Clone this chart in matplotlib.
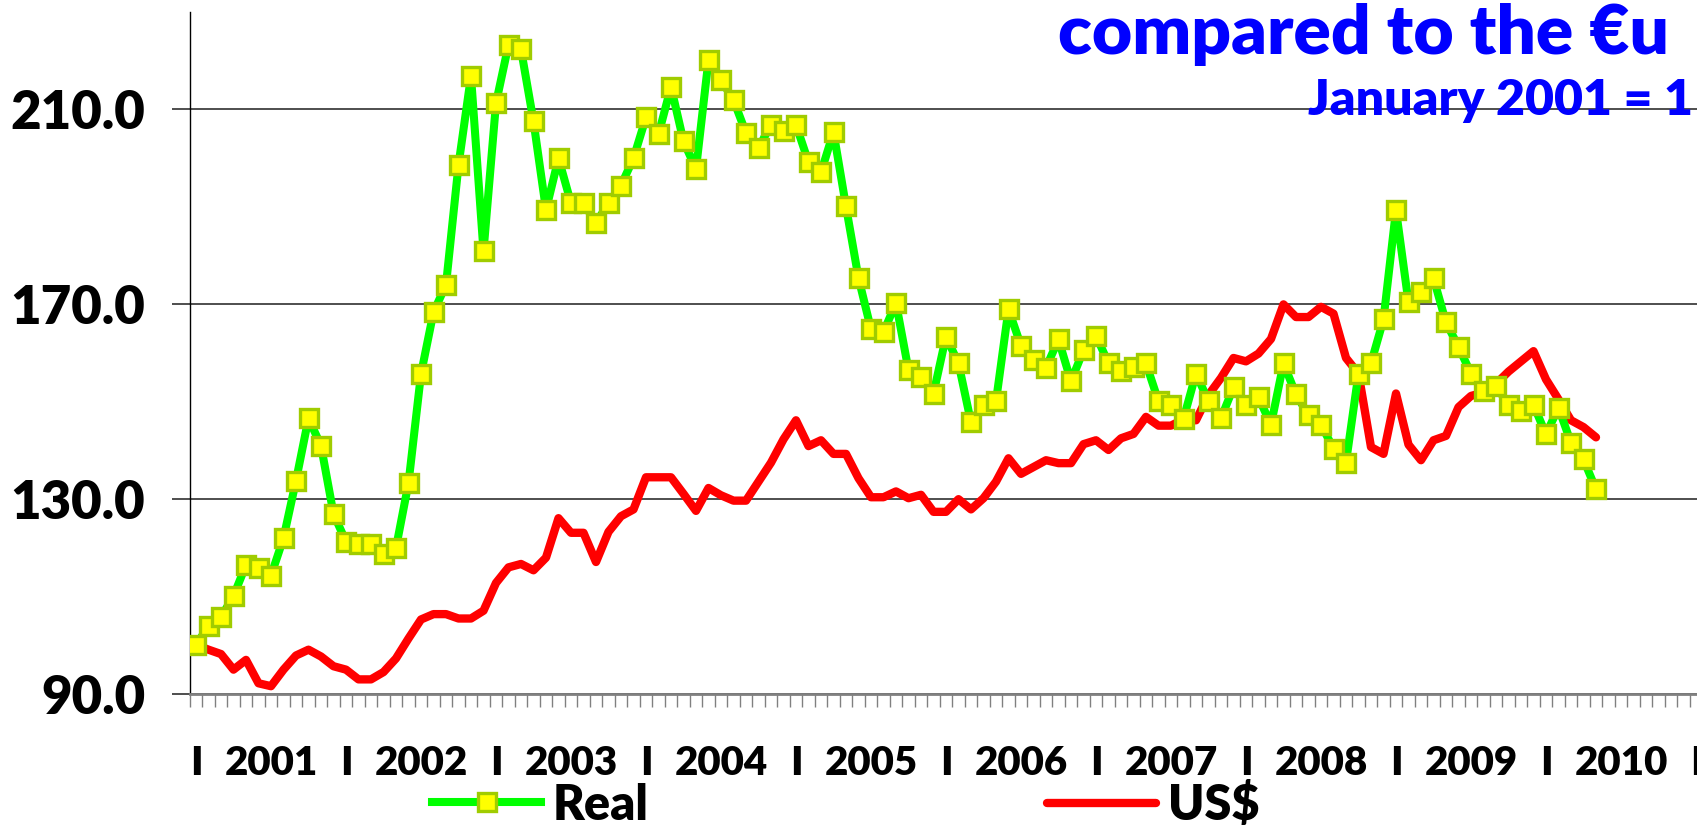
import matplotlib.pyplot as plt
import numpy as np

plt.rcParams['font.family'] = ['Lato', 'DejaVu Sans']

# monthly index, January 2001 = 100
years = ['2001', '2002', '2003', '2004', '2005', '2006', '2007', '2008', '2009', '2010']
sep_label = 'I'
yticks = [90, 130, 170, 210]

real = [100.0, 103.8, 105.7, 110.0, 116.4, 115.7, 114.2, 121.9, 133.7, 146.5,
        140.9, 126.9, 121.2, 120.7, 120.7, 118.7, 119.9, 133.2, 155.6, 168.3,
        173.9, 198.5, 216.8, 180.8, 211.2, 223.2, 222.3, 207.5, 189.3, 199.9,
        190.7, 190.7, 186.6, 190.7, 194.3, 199.9, 208.3, 204.8, 214.6, 203.4,
        197.7, 220.1, 216.0, 211.9, 205.1, 202.0, 206.8, 205.5, 206.8, 199.1,
        197.0, 205.3, 190.0, 175.3, 164.8, 164.2, 170.2, 156.4, 155.0, 151.6,
        163.3, 157.8, 145.7, 149.3, 150.0, 168.9, 161.4, 158.4, 156.9, 162.7,
        154.1, 160.5, 163.5, 157.8, 156.3, 157.1, 157.8, 150.0, 149.3, 146.4,
        155.7, 150.0, 146.5, 152.9, 149.3, 150.8, 145.2, 157.8, 151.4, 147.2,
        145.2, 140.3, 137.4, 155.7, 157.8, 166.8, 189.3, 170.3, 172.4, 175.3,
        166.2, 161.2, 155.7, 152.2, 153.1, 149.3, 148.1, 149.3, 143.2, 148.7,
        141.5, 138.1, 131.9]

usd = [100.0, 99.0, 98.1, 94.9, 96.9, 92.1, 91.5, 94.9, 97.8, 99.0,
       97.6, 95.6, 94.9, 92.9, 92.9, 94.4, 97.2, 101.3, 105.2, 106.3,
       106.3, 105.4, 105.4, 107.0, 112.7, 115.9, 116.6, 115.3, 117.9, 126.0,
       123.0, 123.0, 117.0, 123.2, 126.4, 127.8, 134.4, 134.4, 134.4, 131.0,
       127.5, 132.2, 130.7, 129.6, 129.6, 133.5, 137.4, 142.2, 146.1, 140.8,
       142.0, 139.2, 139.2, 134.2, 130.3, 130.3, 131.5, 130.1, 130.8, 127.3,
       127.3, 129.9, 127.8, 130.1, 133.5, 138.3, 135.1, 136.5, 137.9, 137.3,
       137.3, 141.2, 142.0, 140.0, 142.4, 143.3, 146.8, 145.0, 145.0, 146.3,
       146.1, 151.3, 154.8, 158.9, 158.2, 159.8, 162.8, 169.9, 167.3, 167.3,
       169.4, 168.0, 158.9, 155.7, 140.6, 139.2, 151.6, 141.1, 137.9, 142.0,
       142.9, 148.8, 151.1, 151.8, 153.6, 156.1, 158.2, 160.3, 154.5, 150.4,
       146.1, 144.7, 142.6]

W, H = 1697, 830
fig = plt.figure(figsize=(W / 100, H / 100), dpi=100)
# plot area runs past the right edge, like the cropped original
ax = fig.add_axes([189.75 / W, (H - 693.5) / H, 1650 / W, (693.5 - 11.7) / H])

l_usd, = ax.plot(np.arange(len(usd)), usd, color='#ff0000', lw=6.0,
                 solid_joinstyle='round', solid_capstyle='round', zorder=3)
l_real, = ax.plot(np.arange(len(real)), real, color='#00ff00', lw=5.8,
                  solid_joinstyle='round', marker='s', ms=13, mfc='#ffff00',
                  mec='#a0cc00', mew=2.4, zorder=4)

n_cat = 12 * (len(years) + 1)
ax.set_xlim(-0.5, n_cat - 0.5)
ax.set_ylim(90, 230)

ax.set_yticks(yticks)
ax.set_yticklabels([f'{v:.1f}' for v in yticks], fontsize=38, fontweight='heavy')
ax.grid(axis='y', color='#404040', lw=1.3)
ax.set_axisbelow(True)
ax.tick_params(axis='y', length=13, width=1.3, color='#404040', pad=19)

pos, labs = [], []
for k in range(len(years) + 1):
    pos.append(12 * k)
    labs.append(sep_label)
    if k < len(years):
        pos.append(12 * k + 6)
        labs.append(years[k])
ax.set_xticks(pos)
ax.set_xticklabels(labs, fontsize=29, fontweight='heavy')
ax.set_xticks(np.arange(-0.5, n_cat, 1), minor=True)
ax.tick_params(axis='x', which='major', length=0, pad=37)
ax.tick_params(axis='x', which='minor', length=9.5, width=1, color='#808080')

for s in ('top', 'right'):
    ax.spines[s].set_visible(False)
ax.spines['left'].set_color('black')
ax.spines['left'].set_linewidth(1)
ax.spines['bottom'].set_color('#808080')
ax.spines['bottom'].set_linewidth(2)

leg_kw = dict(loc='center left', frameon=False, borderpad=0, borderaxespad=0,
              handlelength=2.25, handletextpad=0.24,
              prop={'size': 35, 'weight': 'heavy'})
fig.legend([l_real], ['Real'], bbox_to_anchor=(432 / W, (H - 805) / H), **leg_kw)
fig.legend([l_usd], ['US$'], bbox_to_anchor=(1047 / W, (H - 805) / H), **leg_kw)

fig.text(1058 / W, (H - 54) / H, 'compared to the €u', color='#0000ff',
         fontsize=50, fontweight='heavy', va='baseline')
fig.text(1308 / W, (H - 115) / H, 'January 2001 = 1', color='#0000ff',
         fontsize=36, fontweight='heavy', va='baseline')

fig.savefig('out.png', dpi=100)
